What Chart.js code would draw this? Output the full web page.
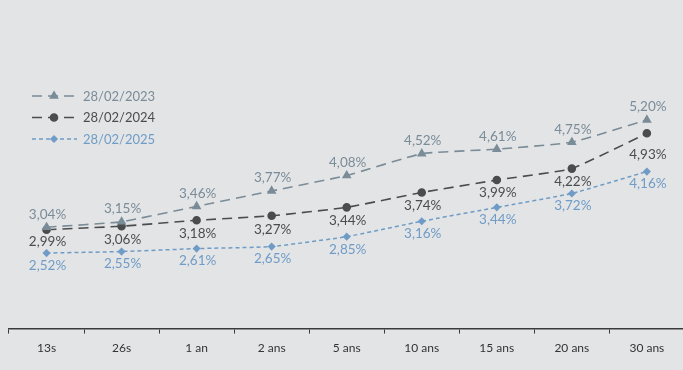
<!DOCTYPE html>
<html>
<head>
<meta charset="utf-8">
<script src="https://cdn.jsdelivr.net/npm/chart.js@4"></script>
<style>
  html, body { margin: 0; padding: 0; background: #e3e4e6; overflow: hidden; }
  #wrap { position: absolute; left: 0; top: 0; width: 690px; height: 370px; }
</style>
</head>
<body>
<div id="wrap"><canvas id="curve"></canvas></div>
<script>
// ---------- Data ----------
const maturities = ["13s", "26s", "1 an", "2 ans", "5 ans", "10 ans", "15 ans", "20 ans", "30 ans"];
const seriesNames = ["28/02/2023", "28/02/2024", "28/02/2025"];
const rates2023 = [3.04, 3.15, 3.46, 3.77, 4.08, 4.52, 4.61, 4.75, 5.20];
const rates2024 = [2.99, 3.06, 3.18, 3.27, 3.44, 3.74, 3.99, 4.22, 4.93];
const rates2025 = [2.52, 2.55, 2.61, 2.65, 2.85, 3.16, 3.44, 3.72, 4.16];

const FONT = "Lato, 'Noto Sans', sans-serif";
const C23 = "#7a8c98", C24 = "#4b4c4e", C25 = "#6f9cc6";

const fmt = v => v.toFixed(2).replace(".", ",") + "%";

// value labels next to each point
const valueLabels = {
  id: "valueLabels",
  afterDatasetsDraw(chart) {
    const ctx = chart.ctx;
    ctx.save();
    ctx.font = "13.5px " + FONT;
    ctx.textAlign = "center";
    ctx.textBaseline = "middle";
    chart.data.datasets.forEach((ds, i) => {
      const meta = chart.getDatasetMeta(i);
      meta.data.forEach((pt, j) => {
        const off = ds.labelOffsets ? ds.labelOffsets[j] : ds.labelOffset;
        ctx.fillStyle = ds.borderColor;
        ctx.fillText(fmt(ds.data[j]), pt.x + 1, pt.y + off);
      });
    });
    ctx.restore();
  }
};

// legend drawn top-left
const sideLegend = {
  id: "sideLegend",
  afterDraw(chart) {
    const ctx = chart.ctx;
    ctx.save();
    const rows = [96, 117.5, 139];
    chart.data.datasets.forEach((ds, i) => {
      const y = rows[i];
      ctx.strokeStyle = ds.borderColor;
      ctx.lineWidth = ds.borderWidth;
      ctx.setLineDash(ds.borderDash);
      ctx.beginPath();
      ctx.moveTo(32, y);
      ctx.lineTo(77, y);
      ctx.stroke();
      ctx.setLineDash([]);
      Chart.helpers.drawPoint(ctx, {
        pointStyle: ds.pointStyle, radius: ds.pointRadius, rotation: 0, borderWidth: 1
      }, 54, y);
      ctx.fillStyle = ds.borderColor;
      ctx.fill();
      ctx.font = "13px " + FONT;
      ctx.textBaseline = "middle";
      ctx.fillText(ds.label, 83, y + 0.5);
    });
    ctx.restore();
  }
};

const ctx = document.getElementById("curve").getContext("2d");
new Chart(ctx, {
  type: "line",
  data: {
    labels: maturities,
    datasets: [
      {
        label: seriesNames[0], data: rates2023,
        borderColor: C23, backgroundColor: C23, pointBackgroundColor: C23, pointBorderColor: C23,
        borderWidth: 1.6, borderDash: [10, 6], tension: 0.12,
        pointStyle: "triangle", pointRadius: 4, labelOffset: -13
      },
      {
        label: seriesNames[1], data: rates2024,
        borderColor: C24, backgroundColor: C24, pointBackgroundColor: C24, pointBorderColor: C24,
        borderWidth: 1.6, borderDash: [10, 6], tension: 0.12,
        pointStyle: "circle", pointRadius: 3.5,
        labelOffsets: [12, 13, 13, 14, 13, 13, 13, 13, 21]
      },
      {
        label: seriesNames[2], data: rates2025,
        borderColor: C25, backgroundColor: C25, pointBackgroundColor: C25, pointBorderColor: C25,
        borderWidth: 1.5, borderDash: [4, 3], tension: 0.12,
        pointStyle: "rectRot", pointRadius: 3, labelOffset: 12.5
      }
    ]
  },
  options: {
    responsive: true,
    maintainAspectRatio: false,
    animation: false,
    layout: { padding: { left: 9, right: 1, top: 4, bottom: 8 } },
    plugins: { legend: { display: false }, tooltip: { enabled: false } },
    scales: {
      x: {
        offset: true,
        border: { color: "#3a3a3a", width: 1.5 },
        grid: { drawOnChartArea: false, tickLength: 5, color: "#3a3a3a", offset: true },
        ticks: { color: "#333", font: { family: FONT, size: 12 }, padding: 7 }
      },
      y: { display: false, min: 1, max: 7.5 }
    }
  },
  plugins: [valueLabels, sideLegend]
});
</script>
</body>
</html>
